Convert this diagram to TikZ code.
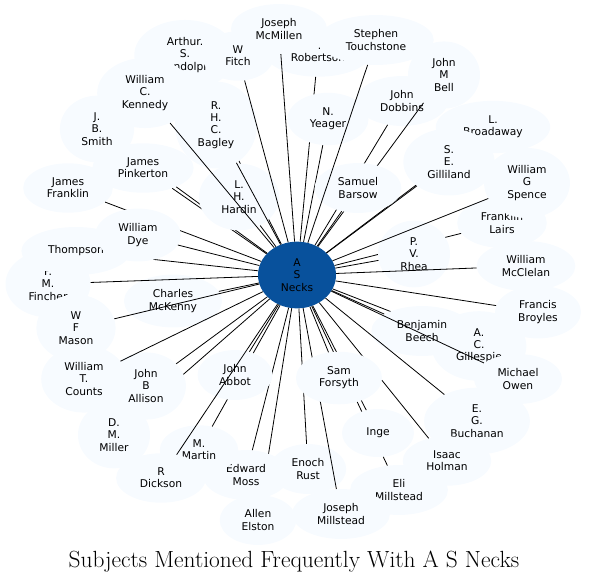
\documentclass[tikz,border=0pt]{standalone}
\usepackage{fontspec}
\usetikzlibrary{shapes.geometric}
\newfontfamily\dejavu{DejaVu Sans}
\newcommand\nodefnt{\dejavu\fontsize{10.7}{12.2}\selectfont}
\definecolor{nodefill}{HTML}{F7FBFF}
\definecolor{hubfill}{HTML}{08519C}
\tikzset{
  nd/.style={ellipse, fill=nodefill, inner xsep=10.65pt, inner ysep=7.4pt,
    minimum width=72pt, minimum height=48pt, align=center, font=\nodefnt},
  hub/.style={nd, fill=hubfill, minimum width=78pt},
  edge/.style={draw=black, line width=0.8pt},
  ttl/.style={font=\fontsize{23.4}{27}\selectfont, anchor=base, inner sep=0pt}
}
\begin{document}
\begin{tikzpicture}[x=1pt,y=-1pt]
\useasboundingbox (0,0) rectangle (589,582);
\node[hub] (c) at (297,275) {A\\S\\Necks};
\node[nd] (n01) at (97,129) {J.\\B.\\Smith};
\draw[edge] (c) -- (n01);
\node[nd] (n02) at (143,168) {James\\Pinkerton};
\draw[edge] (c) -- (n02);
\node[nd] (n03) at (185,55) {Arthur.\\S.\\Randolph};
\draw[edge] (c) -- (n03);
\node[nd] (n04) at (239,197) {L.\\H.\\Hardin};
\draw[edge] (c) -- (n04);
\node[nd] (n06) at (216,125) {R.\\H.\\C.\\Bagley};
\draw[edge] (c) -- (n06);
\node[nd] (n05) at (145,93) {William\\C.\\Kennedy};
\draw[edge] (c) -- (n05);
\node[nd] (n07) at (238,56) {W\\Fitch};
\draw[edge] (c) -- (n07);
\node[nd] (n08) at (318,52) {\phantom{J}.\\Robertson};
\draw[edge] (c) -- (n08);
\node[nd] (n09) at (279,29) {Joseph\\McMillen};
\draw[edge] (c) -- (n09);
\node[nd] (n10) at (328,119) {N.\\Yeager};
\draw[edge] (c) -- (n10);
\node[nd] (n11) at (402,101) {John\\Dobbins};
\draw[edge] (c) -- (n11);
\node[nd] (n12) at (444,75) {John\\M\\Bell};
\draw[edge] (c) -- (n12);
\node[nd] (n13) at (493,127) {L.\\Broadaway};
\draw[edge] (c) -- (n13);
\node[nd] (n14) at (449,162) {S.\\E.\\Gilliland};
\draw[edge] (c) -- (n14);
\node[nd] (n15) at (358,188) {Samuel\\Barsow};
\draw[edge] (c) -- (n15);
\node[nd] (n16) at (376,40) {Stephen\\Touchstone};
\draw[edge] (c) -- (n16);
\node[nd] (n17) at (502,223) {Franklin\\Lairs};
\draw[edge] (c) -- (n17);
\node[nd] (n18) at (414,254) {P.\\V.\\Rhea};
\draw[edge] (c) -- (n18);
\node[nd] (n19) at (527,183) {William\\G\\Spence};
\draw[edge] (c) -- (n19);
\node[nd] (n20) at (526,266) {William\\McClelan};
\draw[edge] (c) -- (n20);
\node[nd] (n21) at (538,312) {Francis\\Broyles};
\draw[edge] (c) -- (n21);
\node[nd] (n22) at (479,346) {A.\\C.\\Gillespie};
\draw[edge] (c) -- (n22);
\node[nd] (n23) at (422,331) {Benjamin\\Beech};
\draw[edge] (c) -- (n23);
\node[nd] (n24) at (518,379) {Michael\\Owen};
\draw[edge] (c) -- (n24);
\node[nd] (n25) at (477,421) {E.\\G.\\Buchanan};
\draw[edge] (c) -- (n25);
\node[nd] (n26) at (447,461) {Isaac\\Holman};
\draw[edge] (c) -- (n26);
\node[nd] (n27) at (399,490) {Eli\\Millstead};
\draw[edge] (c) -- (n27);
\node[nd] (n28) at (378,433) {Inge};
\draw[edge] (c) -- (n28);
\node[nd] (n29) at (308,469) {Enoch\\Rust};
\draw[edge] (c) -- (n29);
\node[nd] (n30) at (341,514) {Joseph\\Millstead};
\draw[edge] (c) -- (n30);
\node[nd] (n31) at (339,378) {Sam\\Forsyth};
\draw[edge] (c) -- (n31);
\node[nd] (n32) at (258,520) {Allen\\Elston};
\draw[edge] (c) -- (n32);
\node[nd] (n33) at (246,475) {Edward\\Moss};
\draw[edge] (c) -- (n33);
\node[nd] (n34) at (199,450) {M.\\Martin};
\draw[edge] (c) -- (n34);
\node[nd] (n35) at (235,375) {John\\Abbot};
\draw[edge] (c) -- (n35);
\node[nd] (n36) at (161,478) {R\\Dickson};
\draw[edge] (c) -- (n36);
\node[nd] (n37) at (114,435) {D.\\M.\\Miller};
\draw[edge] (c) -- (n37);
\node[nd] (n38) at (146,386) {John\\B\\Allison};
\draw[edge] (c) -- (n38);
\node[nd] (n40) at (173,301) {Charles\\McKenny};
\draw[edge] (c) -- (n40);
\node[nd] (n41) at (48,284) {F.\\M.\\Fincher};
\draw[edge] (c) -- (n41);
\node[nd] (n42) at (76,251) {Thompson};
\draw[edge] (c) -- (n42);
\node[nd] (n43) at (68,188) {James\\Franklin};
\draw[edge] (c) -- (n43);
\node[nd] (n44) at (138,235) {William\\Dye};
\draw[edge] (c) -- (n44);
\node[nd] (n45) at (76,328) {W\\F\\Mason};
\draw[edge] (c) -- (n45);
\node[nd] (n39) at (84,379) {William\\T.\\Counts};
\draw[edge] (c) -- (n39);
\node[ttl] (title) at (294,567) {Subjects Mentioned Frequently With A S Necks};
\end{tikzpicture}
\end{document}
